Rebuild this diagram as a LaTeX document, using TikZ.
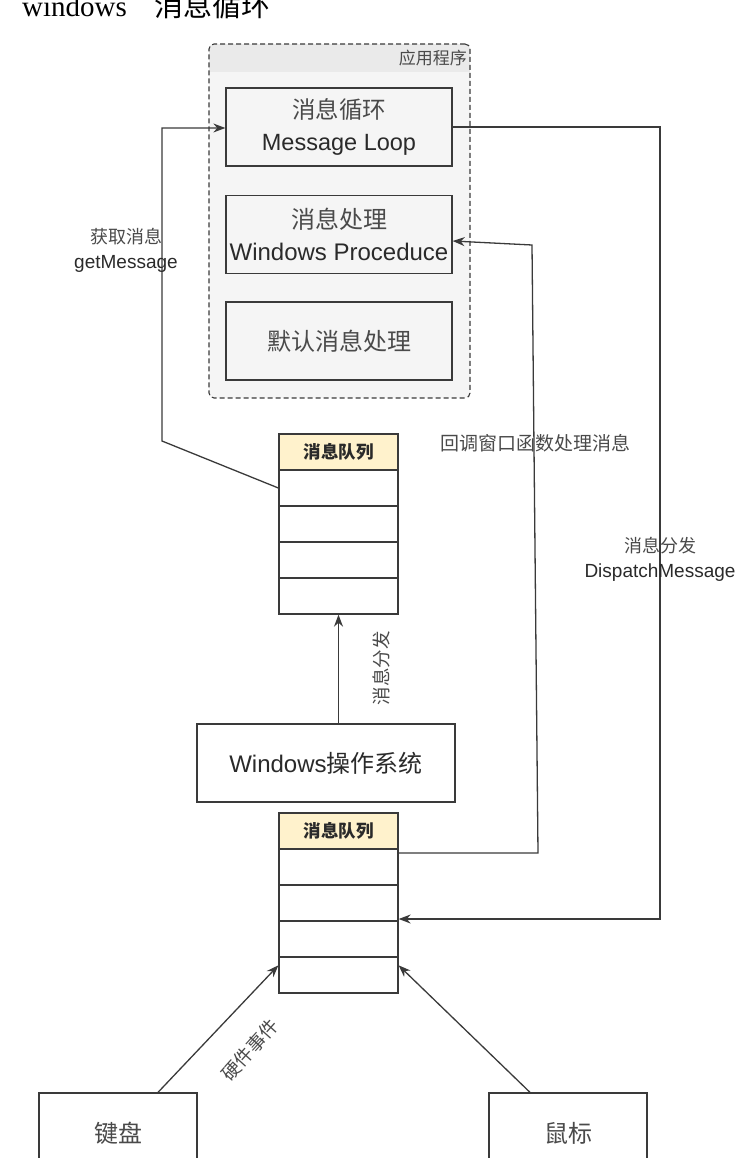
\documentclass[tikz,border=0pt]{standalone}
\usepackage{fontspec}
\setmainfont{Liberation Sans}
\newfontfamily\cjk{Noto Sans CJK SC}
\newfontfamily\serifw{Liberation Serif}
\usetikzlibrary{arrows.meta,calc}
\definecolor{lc}{HTML}{3A3A3A}
\definecolor{tc}{HTML}{2A2A2A}
\definecolor{cc}{HTML}{4A4A4A}
\definecolor{boxf}{HTML}{F5F5F5}
\definecolor{hdrf}{HTML}{EAEAEA}
\definecolor{qy}{HTML}{FFF2CC}
\begin{document}
\begin{tikzpicture}[x=1pt,y=-1pt,
  ln/.style={draw=lc, line width=1.3pt},
  arr/.style={ln, -{Stealth[length=12pt,width=9pt]}},
  box/.style={draw=lc, line width=1.3pt, fill=boxf, minimum width=226pt, minimum height=78pt, inner sep=0pt, align=center, font=\fontsize{23.5}{32}\selectfont, text=tc},
  wbox/.style={draw=lc, line width=1.3pt, fill=white, inner sep=0pt, align=center, text=tc, font=\fontsize{24}{28}\selectfont},
  qh/.style={draw=lc, line width=1.3pt, fill=qy, minimum width=119pt, minimum height=36pt, inner sep=0pt, font=\cjk\bfseries\fontsize{17.5}{17.5}\selectfont, text=tc},
  qr/.style={draw=lc, line width=1.3pt, fill=white, minimum width=119pt, minimum height=36pt, inner sep=0pt},
  lab/.style={text=tc, align=center, inner sep=0pt, font=\fontsize{19}{25}\selectfont},
  clab/.style={text=cc, inner sep=0pt, font=\cjk\fontsize{18.5}{18.5}\selectfont},
]
\useasboundingbox (0,0) rectangle (753,1158);
% title
\node[anchor=base west, inner sep=0pt, text=black, font=\fontsize{29}{29}\selectfont] (title) at (22,17) {\serifw windows\hspace{28pt}\cjk 消息循环};
% application container
\begin{scope}
\clip[rounded corners=5pt] (209,44) rectangle (470,398);
\fill[boxf] (209,44) rectangle (470,398);
\fill[hdrf] (209,44) rectangle (470,72);
\end{scope}
\node[draw=lc, line width=1.1pt, dash pattern=on 5pt off 3pt, rounded corners=5pt, minimum width=261pt, minimum height=354pt, inner sep=0pt] (app) at (339.5,221) {};
\node[anchor=east, clab, font=\cjk\fontsize{17}{17}\selectfont] (applab) at (467,58) {应用程序};
% boxes in app
\node[box] (ML) at (339,127) {{\cjk\color{cc}消息循环}\\Message Loop};
\node[box, font=\fontsize{24}{32}\selectfont] (WP) at (339,234.5) {{\cjk\color{cc}消息处理}\\Windows Proceduce};
\node[box, font=\cjk\fontsize{24}{28}\selectfont, text=cc] (DF) at (339,341) {默认消息处理};
% queue 1
\node[qh] (q1h) at (338.5,452) {消息队列};
\node[qr] (q1r1) at (338.5,488) {};
\node[qr] (q1r2) at (338.5,524) {};
\node[qr] (q1r3) at (338.5,560) {};
\node[qr] (q1r4) at (338.5,596) {};
% OS box
\node[wbox, minimum width=258pt, minimum height=78pt] (OS) at (326,763) {Windows{\cjk 操作系统}};
% queue 2
\node[qh] (q2h) at (338.5,831) {消息队列};
\node[qr] (q2r1) at (338.5,867) {};
\node[qr] (q2r2) at (338.5,903) {};
\node[qr] (q2r3) at (338.5,939) {};
\node[qr] (q2r4) at (338.5,975) {};
% devices
\node[wbox, minimum width=158pt, minimum height=80pt, font=\cjk\fontsize{24}{28}\selectfont, text=cc] (KB) at (118,1133) {键盘};
\node[wbox, minimum width=158pt, minimum height=80pt, font=\cjk\fontsize{24}{28}\selectfont, text=cc] (MS) at (568,1133) {鼠标};
% bend coordinates
\coordinate (g1) at (162,441);
\coordinate (g2) at (162,128);
\coordinate (d1) at (660,127);
\coordinate (d2) at (660,919);
\coordinate (c1) at (538,853);
\coordinate (c2) at (532,245);
% connectors
\draw[arr] (q1r1.west) -- (g1) -- (g2) -- (ML.west |- g2);
\draw[arr] (ML.east) -- (d1) -- (d2) -- (q2r3.east |- d2);
\draw[arr] (q2h.south east |- c1) -- (c1) -- (c2) -- ($(WP.east)+(0,6.5)$);
\draw[arr] (q1r4.south |- OS.north) -- (q1r4.south);
\draw[arr] ($(KB.north)+(40,0)$) -- ($(q2r4.north west)+(0,9)$);
\draw[arr] ($(MS.north)+(-38,0)$) -- ($(q2r4.north east)+(0,9)$);
% labels
\node[lab] (lg) at (126,250) {{\cjk\color{cc}\fontsize{18}{18}\selectfont 获取消息}\\getMessage};
\node[lab] (ld) at (660,559) {{\cjk\color{cc}\fontsize{18}{18}\selectfont 消息分发}\\DispatchMessage};
\node[clab, font=\cjk\fontsize{19}{19}\selectfont] (lc) at (535,443) {回调窗口函数处理消息};
\node[clab, rotate=90] (lo) at (381,668) {消息分发};
\node[clab, rotate=48] (lh) at (250,1050) {硬件事件};
\end{tikzpicture}
\end{document}
